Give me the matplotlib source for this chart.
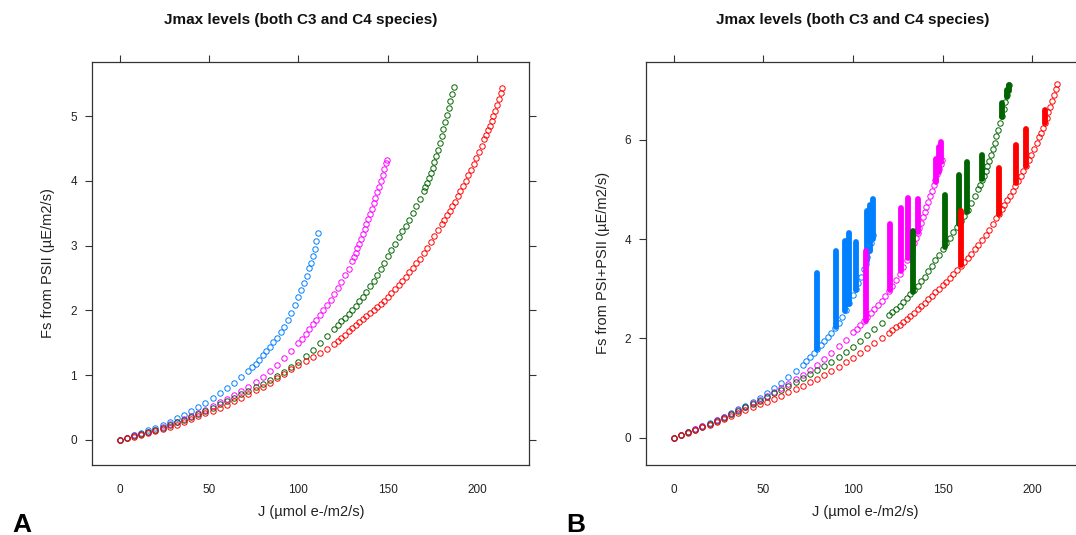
import matplotlib
matplotlib.use("Agg")
import matplotlib.pyplot as plt

plt.rcParams['font.family'] = ['Liberation Sans', 'DejaVu Sans']

# ---------------- data ----------------
COLORS = ['#0080ff', '#ff00ff', '#006400', '#ff0000']

J_blue = [0, 4, 8, 12, 16, 20, 24, 28, 32, 36, 40, 44, 48, 52, 56, 60, 64, 68, 72,
          74, 76, 78, 80, 82, 84, 86, 88, 90, 92, 94, 96, 98, 100,
          101.5, 103, 104.5, 106, 107, 108, 109, 110, 111]
FA_blue = [0, 0.035, 0.07, 0.11, 0.15, 0.19, 0.235, 0.285, 0.335, 0.39, 0.445, 0.505, 0.57,
           0.645, 0.72, 0.80, 0.885, 0.975, 1.07,
           1.12, 1.18, 1.24, 1.305, 1.37, 1.44, 1.51, 1.58, 1.66, 1.75, 1.85, 1.96, 2.08, 2.21,
           2.31, 2.42, 2.53, 2.65, 2.74, 2.84, 2.95, 3.07, 3.20]
FB_blue = [0, 0.055, 0.11, 0.17, 0.23, 0.29, 0.355, 0.425, 0.50, 0.57, 0.645, 0.725, 0.81,
           0.90, 0.995, 1.11, 1.22, 1.35, 1.47,
           1.54, 1.62, 1.70, 1.785, 1.86, 1.945, 2.025, 2.11, 2.20, 2.31, 2.435, 2.57, 2.715, 2.87,
           2.985, 3.115, 3.245, 3.39, 3.50, 3.63, 3.77, 3.92, 4.08]

J_mag = [0, 4, 8, 12, 16, 20, 24, 28, 32, 36, 40, 44, 48, 52, 56, 60, 64, 68, 72, 76, 80,
         84, 88, 92, 96, 100,
         102, 104, 106, 108, 110, 112, 114, 116, 118, 120, 122, 124, 126, 128, 130,
         131, 132, 133, 134, 135, 136, 137, 138, 139, 140, 141, 142, 143, 144, 145, 146,
         147, 148, 149, 149.5]
FA_mag = [0, 0.035, 0.07, 0.10, 0.13, 0.16, 0.20, 0.24, 0.28, 0.325, 0.37, 0.42, 0.47, 0.52,
          0.58, 0.64, 0.695, 0.755, 0.82, 0.895, 0.975, 1.065, 1.165, 1.27, 1.38, 1.50,
          1.565, 1.635, 1.71, 1.785, 1.86, 1.935, 2.01, 2.085, 2.165, 2.25, 2.34, 2.44, 2.54,
          2.645, 2.76,
          2.82, 2.89, 2.96, 3.03, 3.10, 3.175, 3.25, 3.33, 3.41, 3.49, 3.57, 3.655, 3.74,
          3.825, 3.91, 4.00, 4.09, 4.18, 4.27, 4.33]
FB_mag = [0, 0.06, 0.12, 0.175, 0.23, 0.285, 0.35, 0.415, 0.48, 0.55, 0.62, 0.69, 0.77, 0.84,
          0.925, 1.01, 1.09, 1.175, 1.265, 1.365, 1.47, 1.585, 1.71, 1.84, 1.975, 2.12,
          2.19, 2.265, 2.345, 2.425, 2.505, 2.59, 2.675, 2.76, 2.855, 2.95, 3.06, 3.18, 3.30,
          3.43, 3.57,
          3.65, 3.74, 3.83, 3.92, 4.02, 4.125, 4.23, 4.33, 4.44, 4.54, 4.65, 4.755, 4.86,
          4.975, 5.08, 5.19, 5.30, 5.41, 5.52, 5.60]

J_green = [0, 4, 8, 12, 16, 20, 24, 28, 32, 36, 40, 44, 48, 52, 56, 60, 64, 68, 72, 76, 80,
           84, 88, 92, 96, 100, 104, 108, 112, 116, 120,
           122, 124, 126, 128, 130, 132, 134, 136, 138, 140, 142, 144, 146, 148, 150, 152,
           154, 156, 158, 160, 162, 164, 166, 168, 170,
           171, 172, 173, 174, 175, 176, 177, 178, 179, 180, 181, 182, 183, 184, 185, 186, 187]
FA_green = [0, 0.03, 0.06, 0.09, 0.12, 0.15, 0.19, 0.23, 0.27, 0.315, 0.36, 0.405, 0.45, 0.50,
            0.55, 0.60, 0.65, 0.705, 0.76, 0.815, 0.87, 0.925, 0.985, 1.05, 1.13, 1.21, 1.30,
            1.39, 1.49, 1.60, 1.72,
            1.77, 1.83, 1.88, 1.94, 2.00, 2.07, 2.14, 2.21, 2.29, 2.37, 2.46, 2.55, 2.645,
            2.74, 2.84, 2.94, 3.03, 3.13, 3.22, 3.31, 3.40, 3.50, 3.61, 3.72, 3.84,
            3.90, 3.97, 4.04, 4.12, 4.20, 4.29, 4.38, 4.48, 4.58, 4.69, 4.80, 4.91, 5.02,
            5.13, 5.24, 5.34, 5.45]
FB_green = [0, 0.055, 0.11, 0.165, 0.22, 0.275, 0.34, 0.405, 0.47, 0.54, 0.61, 0.675, 0.75,
            0.82, 0.895, 0.97, 1.045, 1.125, 1.205, 1.285, 1.365, 1.445, 1.53, 1.62, 1.725,
            1.83, 1.945, 2.06, 2.185, 2.32, 2.465,
            2.525, 2.60, 2.66, 2.735, 2.81, 2.89, 2.975, 3.06, 3.15, 3.245, 3.35, 3.46, 3.57,
            3.68, 3.80, 3.915, 4.02, 4.14, 4.25, 4.36, 4.47, 4.59, 4.72, 4.86, 5.01,
            5.09, 5.18, 5.27, 5.37, 5.47, 5.58, 5.69, 5.81, 5.93, 6.07, 6.20, 6.34, 6.48,
            6.62, 6.76, 6.90, 7.10]

J_red = [0, 4, 8, 12, 16, 20, 24, 28, 32, 36, 40, 44, 48, 52, 56, 60, 64, 68, 72, 76, 80,
         84, 88, 92, 96, 100, 104, 108, 112, 116, 120,
         122, 124, 126, 128, 130, 132, 134, 136, 138, 140, 142, 144, 146, 148, 150, 152, 154,
         156, 158, 160, 162, 164, 166, 168, 170, 172, 174, 176, 178, 180,
         181.5, 183, 184.5, 186, 187.5, 189, 190.5, 192, 193.5, 195, 196.5, 198, 199.5, 201,
         202.5, 204, 205, 206, 207, 208, 209, 210, 211, 212, 213, 213.6]
FA_red = [0, 0.025, 0.05, 0.08, 0.11, 0.14, 0.17, 0.20, 0.235, 0.275, 0.32, 0.365, 0.41,
          0.455, 0.50, 0.545, 0.595, 0.65, 0.71, 0.765, 0.825, 0.885, 0.95, 1.02, 1.09, 1.16,
          1.225, 1.285, 1.345, 1.41, 1.48,
          1.53, 1.575, 1.625, 1.675, 1.725, 1.77, 1.82, 1.87, 1.92, 1.965, 2.01, 2.06, 2.10,
          2.15, 2.205, 2.265, 2.325, 2.39, 2.455, 2.52, 2.59, 2.66, 2.73, 2.80, 2.88, 2.97,
          3.06, 3.15, 3.24, 3.33,
          3.40, 3.47, 3.54, 3.61, 3.68, 3.76, 3.84, 3.92, 4.00, 4.085, 4.17, 4.26, 4.35,
          4.445, 4.54, 4.64, 4.71, 4.78, 4.85, 4.92, 5.00, 5.08, 5.17, 5.27, 5.36, 5.44]
FB_red = [0, 0.05, 0.10, 0.155, 0.21, 0.265, 0.32, 0.38, 0.44, 0.495, 0.55, 0.61, 0.67, 0.73,
          0.79, 0.85, 0.915, 0.98, 1.05, 1.12, 1.19, 1.265, 1.34, 1.43, 1.52, 1.61, 1.71,
          1.81, 1.91, 2.01, 2.11,
          2.17, 2.22, 2.28, 2.34, 2.40, 2.46, 2.52, 2.59, 2.66, 2.72, 2.79, 2.86, 2.93, 3.00,
          3.07, 3.14, 3.22, 3.29, 3.37, 3.45, 3.53, 3.61, 3.70, 3.79, 3.88, 3.98, 4.08,
          4.19, 4.30, 4.42,
          4.51, 4.60, 4.69, 4.78, 4.87, 4.97, 5.06, 5.16, 5.26, 5.37, 5.48, 5.59, 5.70,
          5.81, 5.93, 6.05, 6.14, 6.24, 6.34, 6.44, 6.55, 6.66, 6.78, 6.90, 7.03, 7.12]

# vertical runs in panel B: J position, lower and upper Fs
BAR_J_blue = [79.9, 90.7, 95.4, 97.8, 101.5, 107.8, 109.5, 111.0]
BAR_LO_blue = [1.78, 2.22, 2.55, 2.70, 2.98, 3.55, 3.75, 4.00]
BAR_HI_blue = [3.32, 3.76, 3.97, 4.12, 3.94, 4.56, 4.68, 4.81]
BAR_J_mag = [107.1, 120.5, 127.0, 130.7, 136.3, 146.5, 148.0, 149.3]
BAR_LO_mag = [2.35, 2.97, 3.35, 3.62, 4.15, 5.15, 5.35, 5.55]
BAR_HI_mag = [3.76, 4.31, 4.63, 4.83, 4.81, 5.61, 5.86, 5.96]
BAR_J_green = [133.5, 151.6, 159.2, 163.7, 172.1, 182.9, 185.8, 187.0]
BAR_LO_green = [2.93, 3.85, 4.30, 4.55, 5.20, 6.45, 6.85, 6.98]
BAR_HI_green = [4.17, 4.88, 5.28, 5.55, 5.69, 6.74, 7.01, 7.11]
BAR_J_red = [160.5, 181.6, 190.9, 196.5, 207.0]
BAR_LO_red = [3.47, 4.51, 5.12, 5.48, 6.33]
BAR_HI_red = [4.57, 5.43, 5.90, 6.22, 6.59]

X_TICKS = [0, 50, 100, 150, 200]
YA_TICKS = [0, 1, 2, 3, 4, 5]
YB_TICKS = [0, 2, 4, 6]
TITLE = "Jmax levels (both C3 and C4 species)"
XLABEL = "J (\u00b5mol e-/m2/s)"
YLABEL_A = "Fs from PSII (\u00b5E/m2/s)"
YLABEL_B = "Fs from PSI+PSII (\u00b5E/m2/s)"

series_A = [(J_blue, FA_blue), (J_mag, FA_mag), (J_green, FA_green), (J_red, FA_red)]
series_B = [(J_blue, FB_blue), (J_mag, FB_mag), (J_green, FB_green), (J_red, FB_red)]
bars_B = [(BAR_J_blue, BAR_LO_blue, BAR_HI_blue), (BAR_J_mag, BAR_LO_mag, BAR_HI_mag),
          (BAR_J_green, BAR_LO_green, BAR_HI_green), (BAR_J_red, BAR_LO_red, BAR_HI_red)]

# ---------------- figure ----------------
W, H = 1076, 535
fig = plt.figure(figsize=(W / 100, H / 100), dpi=100)


def rect(l, t, r, b):
    return [l / W, 1 - b / H, (r - l) / W, (b - t) / H]


axA = fig.add_axes(rect(92.3, 61.7, 529.3, 464.6))
axB = fig.add_axes(rect(646.3, 61.7, 1084.4, 464.6))

AX_COL = '#333333'
for ax in (axA, axB):
    ax.set_xlim(-15.3, 229.1)
    ax.set_xticks(X_TICKS)
    for s in ax.spines.values():
        s.set_color(AX_COL)
        s.set_linewidth(0.9)
    ax.tick_params(direction='out', length=5, width=0.8, colors=AX_COL,
                   top=True, right=True, labeltop=False, labelright=False,
                   labelsize=8.5, labelcolor='#222222')
    # no tick marks along the bottom edge, only labels
    ax.tick_params(axis='x', pad=9, bottom=False, labelbottom=True)
    ax.tick_params(axis='y', pad=6)

axA.set_ylim(-0.38, 5.84)
axA.set_yticks(YA_TICKS)
axB.set_ylim(-0.54, 7.57)
axB.set_yticks(YB_TICKS)

MK = dict(linestyle='none', marker='o', ms=3.9, mfc='none', mew=0.7)
for (jj, ff), c in zip(series_A, COLORS):
    axA.plot(jj, ff, mec=c, **MK)

for (jj, ff), (bj, blo, bhi), c in zip(series_B, bars_B, COLORS):
    axB.plot(jj, ff, mec=c, **MK)
    for x, lo, hi in zip(bj, blo, bhi):
        axB.plot([x, x], [lo, hi], color=c, lw=4.2, solid_capstyle='round')

# titles and labels
fig.text(301 / W, 1 - 20 / H, TITLE, ha='center', va='center', fontsize=11,
         fontweight='bold', color='#111111')
fig.text(853 / W, 1 - 20 / H, TITLE, ha='center', va='center', fontsize=11,
         fontweight='bold', color='#111111')
fig.text(310.8 / W, 1 - 512 / H, XLABEL, ha='center', va='center', fontsize=10.5,
         color='#222222')
fig.text(865.3 / W, 1 - 512 / H, XLABEL, ha='center', va='center', fontsize=10.5,
         color='#222222')
fig.text(48 / W, 1 - 263 / H, YLABEL_A, ha='center', va='center', rotation=90,
         fontsize=10.5, color='#222222')
fig.text(603 / W, 1 - 263 / H, YLABEL_B, ha='center', va='center', rotation=90,
         fontsize=10.5, color='#222222')
fig.text(12 / W, 1 - 532 / H, 'A', ha='left', va='baseline', fontsize=19,
         fontweight='bold', color='black')
fig.text(566 / W, 1 - 532 / H, 'B', ha='left', va='baseline', fontsize=19,
         fontweight='bold', color='black')

fig.savefig('out.png', dpi=100)
